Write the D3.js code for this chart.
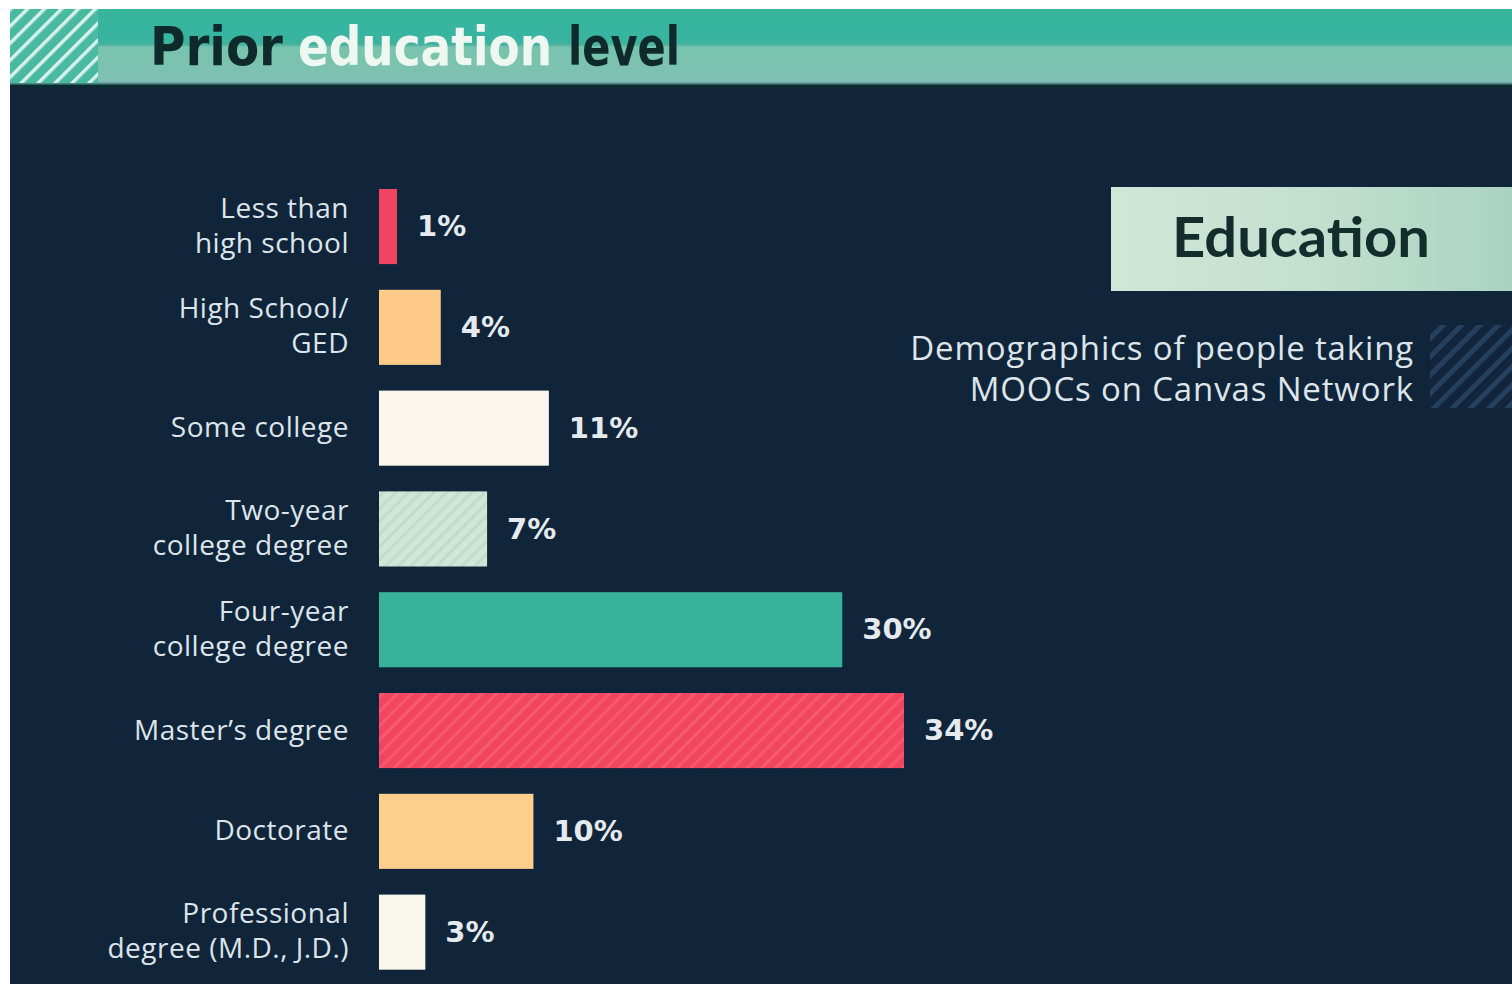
<!DOCTYPE html>
<html>
<head>
<meta charset="utf-8">
<script src="https://cdn.jsdelivr.net/npm/d3@7"></script>
<style>
  html, body { margin: 0; padding: 0; background: #fff; }
  svg { display: block; }
  .cat-label { font-family: "Open Sans", Lato, sans-serif; font-size: 28px; letter-spacing: 0.5px; fill: #dde5ea; }
  .val-label { font-family: "DejaVu Sans", sans-serif; font-weight: 700; font-size: 29px; fill: #e4eaee; }
</style>
</head>
<body>
<div id="chart"></div>
<script>
// chart data
const categories = [
	["Less than", "high school"],
	["High School/", "GED"],
	["Some college"],
	["Two-year", "college degree"],
	["Four-year", "college degree"],
	["Master\u2019s degree"],
	["Doctorate"],
	["Professional", "degree (M.D., J.D.)"],
];
const shares = [1, 4, 11, 7, 30, 34, 10, 3];
const barFills = ["#f04460", "#fdca88", "#fbf7ef", "url(#hatchGreen)", "#36b39a", "url(#hatchRed)", "#fdcf8c", "#f9f7ec"];
const titleWords = ["Prior", "education", "level"];
const titleColours = ["#0f2a2b", "#eef8f1", "#0f2a2b"];
const subtitleLines = ["Demographics of people taking", "MOOCs on Canvas Network"];
const boxLabel = "Education";

const width = 1512;
const height = 984;
const bg = "#10243a";

const svg = d3.select("#chart")
	.append("svg")
	.attr("width", width)
	.attr("height", height);

const defs = svg.append("defs");

// diagonal stripe patterns
function stripes(id, base, stripe, size, w) {
	const p = defs.append("pattern")
		.attr("id", id)
		.attr("patternUnits", "userSpaceOnUse")
		.attr("width", size)
		.attr("height", size)
		.attr("patternTransform", "rotate(45)");
	p.append("rect").attr("width", size).attr("height", size).attr("fill", base);
	p.append("rect").attr("width", w).attr("height", size).attr("fill", stripe);
}
stripes("hatchGreen", "#cfe6d8", "#bfdccd", 9, 3);
stripes("hatchRed", "#f2455f", "#f55a70", 10, 3);
stripes("hatchHeader", "#49b9a2", "#d6f2ea", 12, 3.5);
stripes("hatchDark", "#12253c", "#24405e", 13, 5);

const headGrad = defs.append("linearGradient").attr("id", "headGrad").attr("x1", 0).attr("y1", 0).attr("x2", 0).attr("y2", 1);
[[0, "#38b59d"], [0.42, "#38b4a1"], [0.47, "#49b19d"], [0.5, "#78c4ae"], [0.92, "#7ec1b0"], [0.96, "#80bcb6"], [1, "#1f4a4c"]]
	.forEach(([o, c]) => headGrad.append("stop").attr("offset", o).attr("stop-color", c));

const boxGrad = defs.append("linearGradient").attr("id", "boxGrad").attr("x1", 0).attr("y1", 0).attr("x2", 1).attr("y2", 0);
[[0, "#d0e7d8"], [0.5, "#c3e0cf"], [1, "#abd3c1"]]
	.forEach(([o, c]) => boxGrad.append("stop").attr("offset", o).attr("stop-color", c));

// background
svg.append("rect").attr("x", 10).attr("y", 9).attr("width", width - 10).attr("height", height - 9).attr("fill", bg);

// header band
svg.append("rect").attr("x", 10).attr("y", 9).attr("width", width - 10).attr("height", 76).attr("fill", "url(#headGrad)");
svg.append("rect").attr("x", 10).attr("y", 85).attr("width", width - 10).attr("height", 3).attr("fill", "#0a2a30");
svg.append("rect").attr("x", 10).attr("y", 9).attr("width", 88).attr("height", 74).attr("fill", "url(#hatchHeader)");

// title words, each fitted to its span in the header
const titleX = [150, 298, 568];
const titleW = [133, 254, 112];
svg.append("g")
	.selectAll("text")
	.data(titleWords)
	.join("text")
	.attr("x", (d, i) => titleX[i])
	.attr("y", 65)
	.attr("textLength", (d, i) => titleW[i])
	.attr("lengthAdjust", "spacingAndGlyphs")
	.style("font-family", "'DejaVu Sans Condensed', 'DejaVu Sans', sans-serif")
	.style("font-weight", 700)
	.style("font-size", "54px")
	.attr("fill", (d, i) => titleColours[i])
	.text((d) => d);

// Education box
svg.append("rect").attr("x", 1111).attr("y", 187).attr("width", width - 1111).attr("height", 104).attr("fill", "url(#boxGrad)");
svg.append("text")
	.attr("x", 1172)
	.attr("y", 257)
	.attr("textLength", 258)
	.attr("lengthAdjust", "spacingAndGlyphs")
	.style("font-family", "Lato, sans-serif")
	.style("font-weight", 700)
	.style("font-size", "56px")
	.attr("fill", "#132d2d")
	.text(boxLabel);

// subtitle
svg.append("g")
	.selectAll("text")
	.data(subtitleLines)
	.join("text")
	.attr("x", 1414)
	.attr("y", (d, i) => 360 + i * 41)
	.attr("text-anchor", "end")
	.style("font-family", "'Open Sans', Lato, sans-serif")
	.style("font-size", "33px")
	.style("letter-spacing", "0.85px")
	.attr("fill", "#dde5ea")
	.text((d) => d);
svg.append("rect").attr("x", 1430).attr("y", 325).attr("width", width - 1430).attr("height", 83).attr("fill", "url(#hatchDark)");

// bars
const x0 = 379;
const step = 100.8;
const pad = 0.255;
const x = d3.scaleLinear().domain([0, 34]).range([0, 525]);
const y = d3.scaleBand()
	.domain(d3.range(shares.length))
	.range([189, 189 + step * (shares.length - pad)])
	.paddingInner(pad)
	.paddingOuter(0);

const rows = svg.append("g")
	.selectAll("g")
	.data(shares.map((v, i) => ({v, i, label: categories[i], fill: barFills[i]})))
	.join("g")
	.attr("transform", (d) => `translate(0,${y(d.i)})`);

rows.append("rect")
	.attr("x", x0)
	.attr("y", 0)
	.attr("width", (d) => Math.max(18, x(d.v)))
	.attr("height", y.bandwidth())
	.attr("fill", (d) => d.fill);

rows.append("text")
	.attr("class", "val-label")
	.attr("x", (d) => x0 + Math.max(18, x(d.v)) + 20)
	.attr("y", y.bandwidth() / 2)
	.attr("dy", "0.33em")
	.text((d) => d.v + "%");

rows.append("text")
	.attr("class", "cat-label")
	.attr("text-anchor", "end")
	.attr("x", 349)
	.selectAll("tspan")
	.data((d) => d.label.map((t, j) => ({t, j, n: d.label.length})))
	.join("tspan")
	.attr("x", 349)
	.attr("y", (d) => y.bandwidth() / 2 + (d.n === 1 ? 9 : (d.j === 0 ? -9 : 26)))
	.text((d) => d.t);
</script>
</body>
</html>
